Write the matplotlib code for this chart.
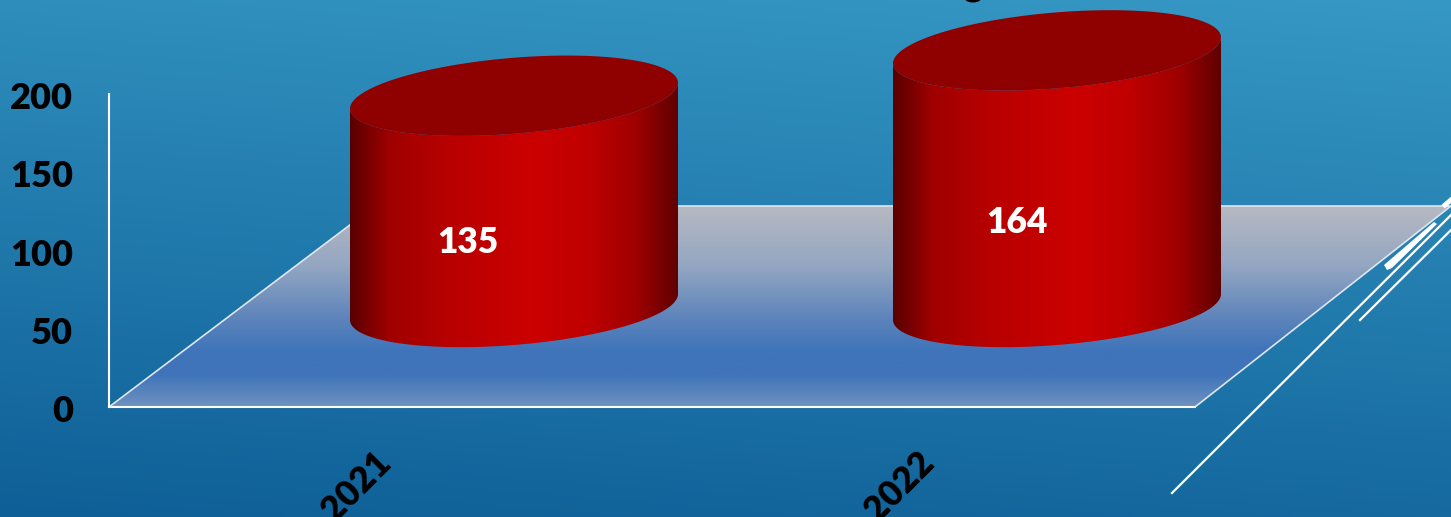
import numpy as np
import matplotlib
matplotlib.use('Agg')
import matplotlib.pyplot as plt
from matplotlib.colors import LinearSegmentedColormap
from matplotlib.patches import Polygon
from matplotlib.transforms import ScaledTranslation

years = ['2021', '2022']
values = [135, 164]
y_ticks = [0, 50, 100, 150, 200]

W, H = 1451, 517
# plot box in pixels
X0, X1, Y0, Y1 = 109, 1195, 407, 94
PX_X = (X1 - X0) / 2.0      # pixels per category
PX_Y = (Y0 - Y1) / 200.0    # pixels per value unit
DEPTH_X, DEPTH_Y = 133.5, 100  # how far the bars sit back on the floor
RX, SKEW, RY = 164, 13, 38     # top ellipse shape

plt.rcParams['font.family'] = ['Lato', 'DejaVu Sans']
plt.rcParams['font.weight'] = 'heavy'

fig = plt.figure(figsize=(W / 100, H / 100), dpi=100)

# background and floor, drawn in pixels
bg = fig.add_axes([0, 0, 1, 1])
bg.axis('off')
yy, xx = np.mgrid[0:1:200j, 0:1:400j]
bg_cmap = LinearSegmentedColormap.from_list('bg', ['#3698c4', '#0e5f97'])
bg.imshow(yy * 0.82 + (1 - xx) * 0.18, cmap=bg_cmap, extent=[0, W, H, 0], aspect='auto', vmin=0, vmax=1)

floor_pts = [(X0, Y0), (375, 206), (1451, 206), (X1, Y0)]
floor_cmap = LinearSegmentedColormap.from_list(
    'floor', [(0, '#b6b9c1'), (0.3, '#93a6c2'), (0.55, '#5f85bb'), (0.72, '#3f74ba'), (0.84, '#3f74ba'), (1, '#6f92bf')])
floor_im = bg.imshow(np.linspace(0, 1, 256).reshape(-1, 1), cmap=floor_cmap, extent=[0, W, Y0, 206], aspect='auto')
floor = Polygon(floor_pts, closed=True, transform=bg.transData, fc='none', ec='#dfe6ee', lw=1.2)
bg.add_patch(floor)
floor_im.set_clip_path(floor)
bg.set_xlim(0, W)
bg.set_ylim(H, 0)

# stray wall lines on the right
bg.plot([1172, 1451], [493, 215], color='white', lw=1.6)
bg.plot([1360, 1451], [320, 230], color='white', lw=1.6)
bg.add_patch(Polygon([(1384, 265), (1387, 270), (1392, 268), (1437, 224), (1434, 222)], closed=True, fc='white', ec='none'))
bg.plot([1445, 1452], [205, 199], color='white', lw=3.5)

# cut off title at the top edge
bg.text(973, -5, 'g', fontsize=26, color='black', ha='center', va='baseline')

# the chart itself
ax = fig.add_axes([X0 / W, (H - Y0) / H, (X1 - X0) / W, (Y0 - Y1) / H])
ax.patch.set_alpha(0)
ax.set_xlim(-0.5, 1.5)
ax.set_ylim(0, 200)

side_cmap = LinearSegmentedColormap.from_list(
    'side', [(0, '#5a0000'), (0.12, '#a00000'), (0.3, '#b80000'), (0.55, '#cb0000'), (0.72, '#c00000'),
             (0.87, '#a00000'), (1, '#600000')])

def ellipse_arc(x, y, t):
    px = RX * np.cos(t)
    py = SKEW * np.cos(t) + RY * np.sin(t)
    return x + px / PX_X, y + py / PX_Y

for i, val in enumerate(values):
    cx = i + DEPTH_X / PX_X
    base = DEPTH_Y / PX_Y
    top = base + val

    t = np.linspace(np.pi, 2 * np.pi, 80)
    xt, yt = ellipse_arc(cx, top, t)
    xb, yb = ellipse_arc(cx, base, t[::-1])
    side = Polygon(np.column_stack([np.r_[xt, xb], np.r_[yt, yb]]), closed=True,
                   fc='none', ec='none', clip_on=False, zorder=3)
    ax.add_patch(side)
    im = ax.imshow(np.linspace(0, 1, 256).reshape(1, -1), cmap=side_cmap, aspect='auto', zorder=3,
                   extent=[cx - RX / PX_X, cx + RX / PX_X, base - 60, top + 40])
    im.set_clip_path(side)
    im.set_clip_box(fig.bbox)

    t = np.linspace(0, 2 * np.pi, 160)
    xt, yt = ellipse_arc(cx, top, t)
    ax.add_patch(Polygon(np.column_stack([xt, yt]), closed=True, fc='#8f0000', ec='none',
                         clip_on=False, zorder=4))

    ax.text(i + (468 - 380.5) / PX_X + (i * 6.0) / PX_X, base - 18 + val * 0.44, str(val), color='white',
            fontsize=25.5, ha='center', va='center', zorder=5)

ax.set_xlim(-0.5, 1.5)
ax.set_ylim(0, 200)

ax.set_yticks(y_ticks)
ax.set_yticklabels([str(v) for v in y_ticks], fontsize=26, color='black')
ax.set_xticks(range(len(years)))
ax.set_xticklabels(years, fontsize=25.5, color='black', rotation=45, ha='right', rotation_mode='anchor')
ax.tick_params(axis='y', length=0, pad=26)
ax.tick_params(axis='x', length=0, pad=28)
for lab in ax.get_xticklabels():
    lab.set_transform(lab.get_transform() + ScaledTranslation(-7 / 100, 0, fig.dpi_scale_trans))
for lab in ax.get_yticklabels():
    lab.set_transform(lab.get_transform() + ScaledTranslation(0, -1.5 / 100, fig.dpi_scale_trans))
for s in ['top', 'right']:
    ax.spines[s].set_visible(False)
for s in ['left', 'bottom']:
    ax.spines[s].set_color('white')
    ax.spines[s].set_linewidth(1.5)

fig.savefig('out.png', dpi=100)
